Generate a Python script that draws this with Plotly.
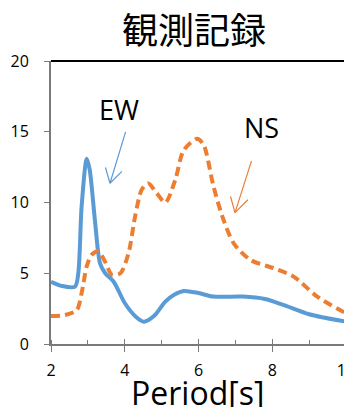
import plotly.graph_objects as go

# EW (blue, solid)
ew_period = [2.0, 2.3, 2.65, 2.74, 2.83, 2.97, 3.05, 3.2, 3.33, 3.47, 3.7, 4.0, 4.3, 4.52, 4.8,
             5.1, 5.35, 5.6, 6.0, 6.4, 7.2, 7.8, 8.3, 9.0, 10.0]
ew_value = [4.4, 4.1, 4.05, 5.0, 9.7, 13.1, 12.3, 8.5, 5.7, 5.0, 4.4, 2.9, 1.93, 1.58, 2.0,
            3.0, 3.5, 3.75, 3.6, 3.35, 3.35, 3.18, 2.76, 2.1, 1.58]

# NS (orange, dashed)
ns_period = [2.0, 2.38, 2.7, 2.83, 2.97, 3.1, 3.28, 3.47, 3.65, 3.88, 4.1, 4.28, 4.46, 4.64,
             4.87, 5.1, 5.37, 5.6, 5.96, 6.14, 6.41, 6.68, 6.96, 7.41, 8.04, 8.58, 9.22, 10.0]
ns_value = [1.98, 2.05, 2.4, 3.6, 5.5, 6.3, 6.57, 5.8, 4.9, 5.0, 6.4, 9.0, 10.9, 11.35,
            10.65, 10.0, 11.6, 13.7, 14.5, 14.06, 11.1, 8.76, 7.1, 5.94, 5.35, 4.76, 3.35, 2.17]

x_ticks = [2, 4, 6, 8, 10]
y_ticks = [0, 5, 10, 15, 20]

title_text = "観測記録"
x_title = "Period[s]"

# label positions and arrow (tail, head, wing tips) in data units
ew_label = (3.85, 16.54)
ns_label = (7.70, 15.27)
ew_arrow = dict(tail=(4.035, 15.1), head=(3.6, 11.36), wings=[(3.465, 12.58), (3.962, 12.3)])
ns_arrow = dict(tail=(7.45, 13.05), head=(6.99, 9.28), wings=[(6.857, 10.53), (7.38, 10.3)])

BLUE = "#5B9BD5"
ORANGE = "#ED7D31"
AXIS = "#7a7a7a"
LATIN = "Open Sans, Noto Sans, sans-serif"

W, H = 352, 407
# the page body adds an 8px offset; compensate in the margins
L, T, R, B = 43, 53, 14, 71

fig = go.Figure()
fig.add_trace(go.Scatter(x=ew_period, y=ew_value, mode="lines", name="EW",
                         line=dict(color=BLUE, width=4, shape="spline", smoothing=0.8)))
fig.add_trace(go.Scatter(x=ns_period, y=ns_value, mode="lines", name="NS",
                         line=dict(color=ORANGE, width=4, shape="spline", smoothing=0.8,
                                   dash="9px,5px")))
# invisible trace so the overlay axis (inner half of the crossing ticks) is drawn
fig.add_trace(go.Scatter(x=[x_ticks[0]], y=[y_ticks[0]], xaxis="x2", mode="markers",
                         marker=dict(opacity=0), hoverinfo="skip", showlegend=False))

for lab, pos in (("EW", ew_label), ("NS", ns_label)):
    fig.add_annotation(x=pos[0], y=pos[1], xref="x", yref="y", text=lab, showarrow=False,
                       font=dict(family=LATIN, size=27, color="black"))


def add_arrow(spec, color):
    hx, hy = spec["head"]
    segments = [spec["tail"]] + spec["wings"]
    for (tx, ty) in segments:
        fig.add_annotation(x=hx, y=hy, ax=tx, ay=ty, xref="x", yref="y", axref="x", ayref="y",
                           text="", showarrow=True, arrowhead=0, arrowwidth=1.2,
                           arrowcolor=color, standoff=0, startstandoff=0)


add_arrow(ew_arrow, BLUE)
add_arrow(ns_arrow, ORANGE)

fig.add_annotation(x=0.498, y=-0.17, xref="paper", yref="paper", text=x_title, showarrow=False,
                   xanchor="center", yanchor="middle",
                   font=dict(family=LATIN, size=32, color="black"))

fig.update_layout(
    width=W, height=H,
    margin=dict(l=L, r=R, t=T, b=B, autoexpand=False),
    paper_bgcolor="white", plot_bgcolor="white",
    showlegend=False,
    title=dict(text=title_text, x=186 / W, xanchor="center", y=1 - 23 / H, yanchor="middle",
               xref="container", yref="container",
               font=dict(family="Noto Sans CJK JP", size=36, color="black")),
    xaxis=dict(range=[2, 10], tickvals=x_ticks, showgrid=False, zeroline=False,
               automargin=False, ticklabeloverflow="allow", ticklabelstandoff=5,
               showline=True, linecolor=AXIS, linewidth=2,
               ticks="outside", ticklen=6, tickcolor=AXIS, tickwidth=1,
               minor=dict(dtick=1, ticks="inside", ticklen=4, tickcolor=AXIS, tickwidth=1),
               tickfont=dict(family=LATIN, size=16, color="black")),
    xaxis2=dict(range=[2, 10], overlaying="x", matches="x", anchor="y", side="bottom",
                tickvals=x_ticks, showticklabels=False, showgrid=False, zeroline=False,
                showline=False, automargin=False,
                ticks="inside", ticklen=5, tickcolor=AXIS, tickwidth=1),
    yaxis=dict(range=[0, 20], tickvals=y_ticks, showgrid=False, zeroline=False,
               automargin=False, ticklabelstandoff=12,
               showline=True, linecolor=AXIS, linewidth=2,
               ticks="outside", ticklen=5, tickcolor=AXIS, tickwidth=1,
               tickfont=dict(family=LATIN, size=16, color="black")),
    shapes=[
        dict(type="line", xref="paper", yref="paper", x0=0, x1=1, y0=1, y1=1,
             line=dict(color="black", width=2)),
        dict(type="line", xref="paper", yref="paper", x0=1, x1=1, y0=0, y1=1,
             line=dict(color="black", width=2.5)),
    ],
)

fig.write_html("out.html")
